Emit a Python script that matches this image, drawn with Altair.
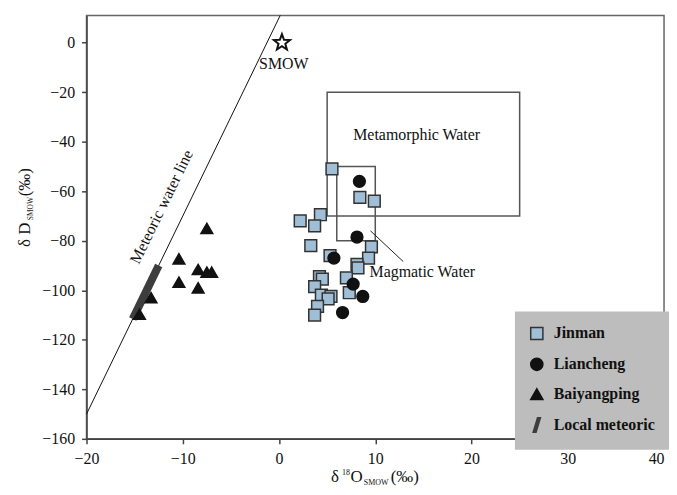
import altair as alt
import pandas as pd

# ---- data ----
jinman_x = [5.5, 8.4, 9.9, 4.3, 2.2, 3.7, 3.3, 5.3, 9.6, 9.3, 8.1, 8.2, 4.2, 4.5, 7.0, 3.7, 4.4, 5.4, 5.1, 7.3, 4.0, 3.7]
jinman_y = [-51, -62.5, -64, -69.5, -72, -74, -82, -86, -82.5, -87, -89.5, -91, -94.5, -95.5, -95, -98.5, -102, -102.5, -103.5, -101, -106.5, -110]
liancheng_x = [8.35, 8.1, 5.7, 7.7, 8.7, 6.6]
liancheng_y = [-56, -78.5, -87, -97.5, -102.5, -109]
baiyang_x = [-7.5, -10.4, -8.4, -7.5, -7.0, -10.4, -8.4, -13.3, -14.5]
baiyang_y = [-75, -87.3, -91.6, -92.7, -92.7, -96.7, -99, -103, -109.7]

mwl_x = [-20, 0.125]
mwl_y = [-150, 11]
local_x = [-15.2, -12.5]
local_y = [-111.6, -90]

smow_x = [0.3]
smow_y = [0]

box_names = ["Metamorphic Water", "Magmatic Water"]
box_x1 = [5, 6]
box_x2 = [25, 10]
box_y1 = [-70, -80]
box_y2 = [-20, -50]

leader_x = [9.5]
leader_x2 = [12.9]
leader_y = [-76]
leader_y2 = [-88.4]

groups = ["Jinman", "Liancheng", "Baiyangping", "Local meteoric water"]
x_ticks = [-20, -10, 0, 10, 20, 30, 40]
y_ticks = [-160, -140, -120, -100, -80, -60, -40, -20, 0]

# ---- styling ----
FONT = "Liberation Serif"
fills = ["#a0bed6", "#111111", "#111111", "#3d3d3d"]
strokes = ["#333333", "#111111", "#111111", "#3d3d3d"]
shapes = ["square", "circle", "triangle-up", "M-0.6,1.2L-0.12,1.2L0.6,-1.2L0.12,-1.2Z"]
STAR = ("M0,-1L0.247,-0.34L0.951,-0.309L0.4,0.13L0.588,0.809L0,0.42"
        "L-0.588,0.809L-0.4,0.13L-0.951,-0.309L-0.247,-0.34Z")

pts = pd.DataFrame({
    "x": jinman_x + liancheng_x + baiyang_x,
    "y": jinman_y + liancheng_y + baiyang_y,
    "group": ["Jinman"] * len(jinman_x) + ["Liancheng"] * len(liancheng_x) + ["Baiyangping"] * len(baiyang_x),
})

xscale = alt.Scale(domain=[-20, 40], nice=False, zero=False)
yscale = alt.Scale(domain=[-160, 11], nice=False, zero=False)
X = alt.X("x:Q", scale=xscale,
          axis=alt.Axis(values=x_ticks, title=None, labelFlush=False, labelOverlap=False,
                        labelAlign={"condition": {"test": "datum.value >= 40", "value": "right"}, "value": "center"}))
Y = alt.Y("y:Q", scale=yscale,
          axis=alt.Axis(values=y_ticks, title=None, labelFlush=False, labelOverlap=False))

leg = alt.Legend(
    title=None, orient="none", legendX=431, legendY=298, fillColor="#bdbdbd", zindex=0,
    padding=14, symbolSize=150, symbolStrokeWidth=1.5,
    labelFont=FONT, labelFontSize=16, labelFontWeight="bold", labelColor="#111111",
    rowPadding=11, labelOffset=9,
    labelExpr="datum.label == 'Local meteoric water' ? 'Local meteoric' : datum.label",
)

points = alt.Chart(pts).mark_point(filled=True, opacity=1, strokeWidth=1.5, size=140).encode(
    x=X, y=Y,
    fill=alt.Fill("group:N", scale=alt.Scale(domain=groups, range=fills), legend=leg),
    stroke=alt.Stroke("group:N", scale=alt.Scale(domain=groups, range=strokes), legend=leg),
    shape=alt.Shape("group:N", scale=alt.Scale(domain=groups, range=shapes), legend=leg),
)

mwl = alt.Chart(pd.DataFrame({"x": mwl_x, "y": mwl_y})).mark_line(color="#111111", strokeWidth=1).encode(x=X, y=Y)
local = alt.Chart(pd.DataFrame({"x": local_x, "y": local_y})).mark_line(
    color="#3d3d3d", strokeWidth=8, strokeCap="butt").encode(x=X, y=Y)

boxes = alt.Chart(pd.DataFrame({"name": box_names, "x": box_x1, "x2": box_x2, "y": box_y1, "y2": box_y2})).mark_rect(
    fillOpacity=0, stroke="#555555", strokeWidth=1.5).encode(x=X, x2="x2:Q", y=Y, y2="y2:Q")

leader = alt.Chart(pd.DataFrame({"x": leader_x, "x2": leader_x2, "y": leader_y, "y2": leader_y2})).mark_rule(
    color="#222222", strokeWidth=1).encode(x=X, x2="x2:Q", y=Y, y2="y2:Q")

star = alt.Chart(pd.DataFrame({"x": smow_x, "y": smow_y})).mark_point(
    shape=STAR, filled=True, fill="white", stroke="#111111", strokeWidth=2, size=290, opacity=1).encode(x=X, y=Y)

labels_df = pd.DataFrame({
    "x": [0.5, 14.3],
    "y": [-8.6, -37.4],
    "t": ["SMOW", "Metamorphic Water"],
})
labels = alt.Chart(labels_df).mark_text(font=FONT, fontSize=16, color="#111111", baseline="middle").encode(
    x=X, y=Y, text="t:N")

magma = alt.Chart(pd.DataFrame({"x": [9.4], "y": [-92.7], "t": ["Magmatic Water"]})).mark_text(
    font=FONT, fontSize=16, color="#111111", align="left", baseline="middle").encode(x=X, y=Y, text="t:N")

mwl_lab = alt.Chart(pd.DataFrame({"x": [-12.2], "y": [-66.3], "t": ["Meteoric water line"]})).mark_text(
    font=FONT, fontSize=16, color="#111111", angle=296, baseline="middle").encode(x=X, y=Y, text="t:N")

# ---- axis titles with sub/superscripts (plot-relative pixel placement) ----
def txt(s, x, y, size, angle=0, align="left", bold=False):
    kw = dict(font=FONT, fontSize=size, color="#111111", align=align, baseline="alphabetic")
    if angle:
        kw["angle"] = angle
    if bold:
        kw["fontWeight"] = "bold"
    return alt.Chart(pd.DataFrame({"t": [s]})).mark_text(**kw).encode(
        x=alt.value(x), y=alt.value(y), text="t:N")

xt = [
    txt("δ", 246, 469, 17),
    txt("18", 257, 462, 8),
    txt("O", 265.5, 469, 17),
    txt("SMOW", 279, 472, 8),
    txt("(‰)", 306, 469, 17),
]
yt = [
    txt("δ D", -57.3, 233, 17, angle=270),
    txt("SMOW", -54.3, 206, 7.5, angle=270),
    txt("(‰)", -57.3, 182, 17, angle=270),
]
legend_extra = txt("water", 465.7, 421, 16, bold=True)

chart = alt.layer(
    boxes, mwl, local, leader, points, star, labels, magma, mwl_lab, *xt, *yt, legend_extra
).properties(
    width=581, height=426,
    padding={"left": 79, "top": 6, "right": 5, "bottom": 47},
    autosize=alt.AutoSizeParams(type="none"),
).configure_view(
    stroke="#666666", strokeWidth=1.5
).configure_axis(
    domainColor="#444444", domainWidth=1.5, tickColor="#444444", tickSize=5, tickWidth=1.5,
    labelFont=FONT, labelFontSize=16, labelColor="#111111", grid=False
).configure_axisX(labelPadding=7).configure_axisY(labelPadding=7)

chart.save("out.html", embed_options={"renderer": "svg", "actions": False})
